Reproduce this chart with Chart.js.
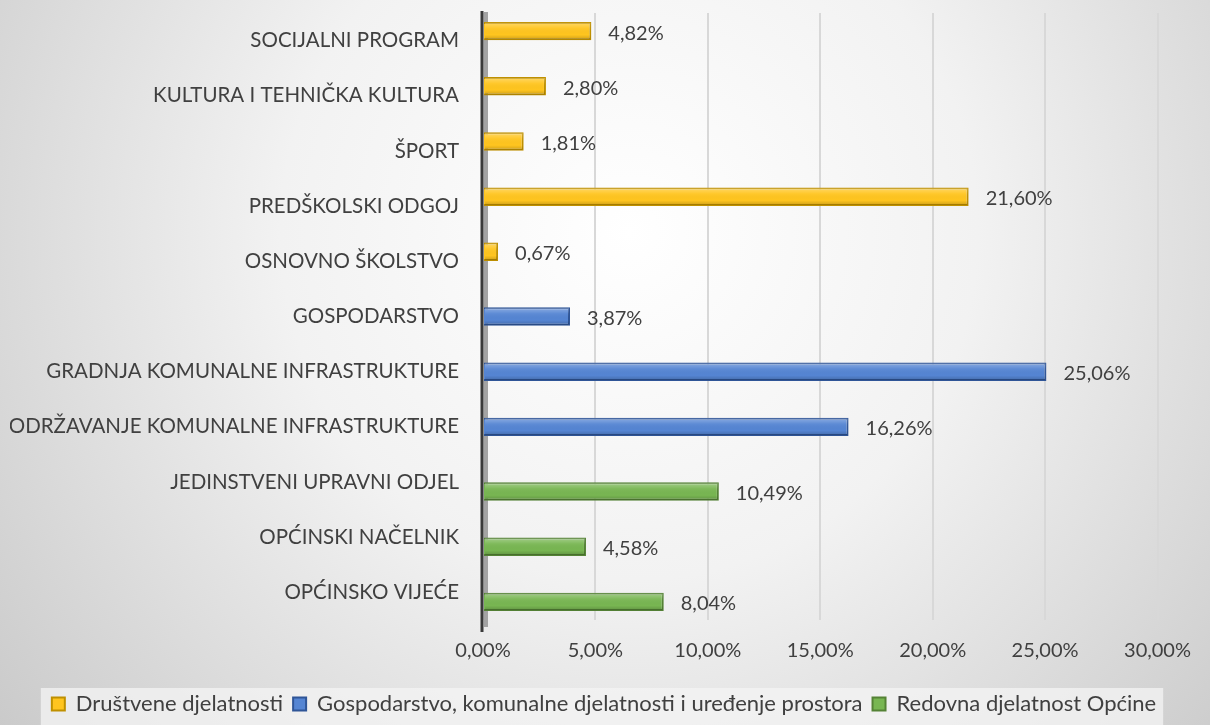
<!DOCTYPE html>
<html>
<head>
<meta charset="utf-8">
<script src="https://cdn.jsdelivr.net/npm/chart.js@4.4.1/dist/chart.umd.min.js"></script>
<style>
  html, body { margin: 0; padding: 0; }
  #wrap { width: 1210px; height: 725px; position: relative; }
</style>
</head>
<body>
<div id="wrap"><canvas id="budgetChart"></canvas></div>
<script>
const categories = [
    'SOCIJALNI PROGRAM',
    'KULTURA I TEHNIČKA KULTURA',
    'ŠPORT',
    'PREDŠKOLSKI ODGOJ',
    'OSNOVNO ŠKOLSTVO',
    'GOSPODARSTVO',
    'GRADNJA KOMUNALNE INFRASTRUKTURE',
    'ODRŽAVANJE KOMUNALNE INFRASTRUKTURE',
    'JEDINSTVENI UPRAVNI ODJEL',
    'OPĆINSKI NAČELNIK',
    'OPĆINSKO VIJEĆE'
];
const drustvene = [4.82, 2.80, 1.81, 21.60, 0.67, null, null, null, null, null, null];
const gospodarstvo = [null, null, null, null, null, 3.87, 25.06, 16.26, null, null, null];
const redovna = [null, null, null, null, null, null, null, null, 10.49, 4.58, 8.04];
const seriesNames = [
    'Društvene djelatnosti',
    'Gospodarstvo, komunalne djelatnosti i uređenje prostora',
    'Redovna djelatnost Općine'
];
const xTicks = [0, 5, 10, 15, 20, 25, 30];

const FONT = 'Lato';
const TEXT = '#404040';

const fmt = v => v.toFixed(2).replace('.', ',') + '%';

const backgroundPlugin = {
    id: 'bgFill',
    beforeDraw(chart) {
        const ctx = chart.ctx;
        const w = chart.width, h = chart.height;
        ctx.save();
        const g = ctx.createRadialGradient(w * 0.52, h * 0.32, 0, w * 0.52, h * 0.32, w * 0.72);
        g.addColorStop(0, '#ffffff');
        g.addColorStop(0.4, '#f2f2f2');
        g.addColorStop(1, '#c4c4c4');
        ctx.fillStyle = g;
        ctx.fillRect(0, 0, w, h);
        // legend panel
        const boxes = chart.legend.legendHitBoxes;
        if (boxes && boxes.length) {
            const first = boxes[0], last = boxes[boxes.length - 1];
            ctx.fillStyle = 'rgba(244,244,244,0.75)';
            ctx.fillRect(first.left - 11, first.top - 5, last.left + last.width - first.left + 18, h);
        }
        ctx.restore();
    },
    beforeDatasetsDraw(chart) {
        // wall side shadow next to the axis, behind the bars
        const ctx = chart.ctx;
        const area = chart.chartArea;
        const x0 = chart.scales.x.getPixelForValue(0);
        ctx.save();
        ctx.fillStyle = '#a3a3a3';
        ctx.fillRect(x0 + 1, area.top - 1, 4, area.bottom - area.top + 8);
        ctx.restore();
    },
    afterDatasetsDraw(chart) {
        const ctx = chart.ctx;
        const area = chart.chartArea;
        const x0 = chart.scales.x.getPixelForValue(0);
        ctx.save();
        // light/dark shading on each bar
        chart.data.datasets.forEach((ds, i) => {
            chart.getDatasetMeta(i).data.forEach((bar, j) => {
                if (ds.data[j] === null) return;
                const top = bar.y - bar.height / 2, h = bar.height;
                const g = ctx.createLinearGradient(0, top, 0, top + h);
                g.addColorStop(0, 'rgba(255,255,255,0.35)');
                g.addColorStop(0.35, 'rgba(255,255,255,0.05)');
                g.addColorStop(0.7, 'rgba(0,0,0,0)');
                g.addColorStop(1, 'rgba(0,0,0,0.22)');
                ctx.fillStyle = g;
                ctx.fillRect(bar.base + 1, top + 1, bar.x - bar.base - 2, h - 2);
            });
        });
        ctx.strokeStyle = '#3a3a3a';
        ctx.lineWidth = 3;
        ctx.beginPath();
        ctx.moveTo(x0 - 1, area.top - 2);
        ctx.lineTo(x0 - 1, area.bottom + 12);
        ctx.stroke();
        // value labels
        ctx.font = '20px ' + FONT;
        ctx.fillStyle = TEXT;
        ctx.textBaseline = 'middle';
        ctx.textAlign = 'left';
        chart.data.datasets.forEach((ds, i) => {
            const meta = chart.getDatasetMeta(i);
            meta.data.forEach((bar, j) => {
                const v = ds.data[j];
                if (v === null || v === undefined) return;
                ctx.fillText(fmt(v), bar.x + 17, bar.y + 2);
            });
        });
        ctx.restore();
    }
};

const barStyle = (fill, border) => ({
    backgroundColor: fill,
    borderColor: border,
    borderWidth: 2,
    categoryPercentage: 0.515,
    barPercentage: 1.95
});

new Chart(document.getElementById('budgetChart').getContext('2d'), {
    type: 'bar',
    data: {
        labels: categories,
        datasets: [
            { label: seriesNames[0], data: drustvene, ...barStyle('#ffc51f', '#bf9000') },
            { label: seriesNames[1], data: gospodarstvo, ...barStyle('#5585d3', '#2f5597') },
            { label: seriesNames[2], data: redovna, ...barStyle('#78b652', '#548235') }
        ]
    },
    options: {
        indexAxis: 'y',
        responsive: true,
        maintainAspectRatio: false,
        animation: false,
        layout: { padding: { top: 13, left: 10, right: 12, bottom: 0 } },
        scales: {
            x: {
                min: 0,
                max: 30,
                afterBuildTicks(scale) { scale.ticks = xTicks.map(v => ({ value: v })); },
                afterFit(scale) { scale.height = 63; },
                ticks: {
                    color: TEXT,
                    font: { family: FONT, size: 20 },
                    padding: 19,
                    callback: v => fmt(v)
                },
                grid: { color: '#d8d8d8', lineWidth: 2, drawTicks: false },
                border: { display: false }
            },
            y: {
                afterFit(scale) {
                    scale.width = 473;
                    scale.paddingTop = 0;
                    scale.paddingBottom = 0;
                },
                ticks: {
                    color: TEXT,
                    font: { family: FONT, size: 20.5 },
                    padding: 24
                },
                grid: { display: false, drawTicks: false },
                border: { display: false }
            }
        },
        plugins: {
            legend: {
                position: 'bottom',
                labels: {
                    color: TEXT,
                    font: { family: FONT, size: 22 },
                    boxWidth: 13,
                    boxHeight: 13,
                    padding: 10
                }
            },
            tooltip: { enabled: false }
        }
    },
    plugins: [backgroundPlugin]
});
</script>
</body>
</html>
